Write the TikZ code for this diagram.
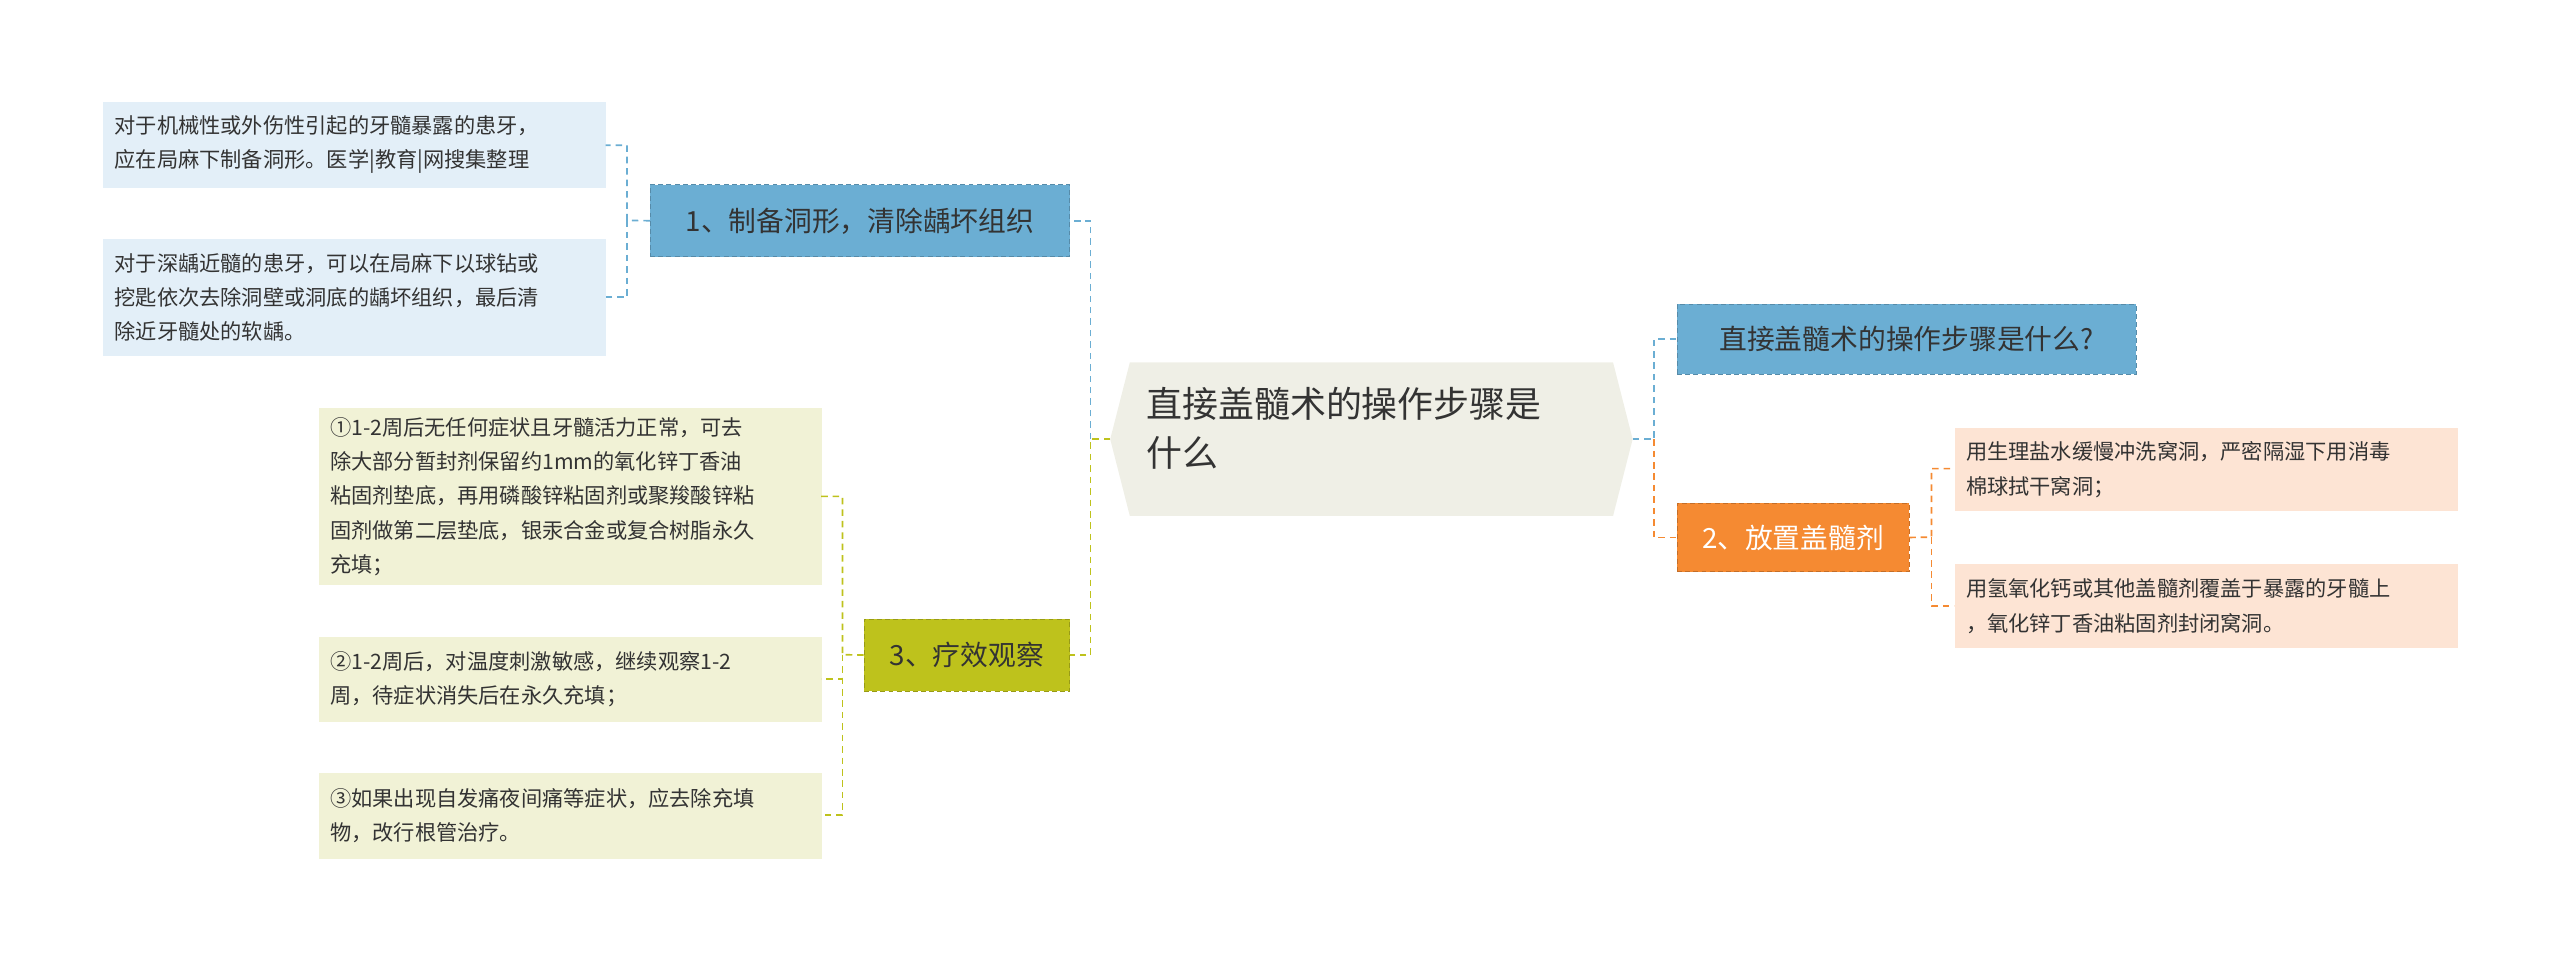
\documentclass[tikz,border=0pt]{standalone}
\usepackage{fontspec}
\newfontfamily\cjk{Noto Sans CJK SC}
\definecolor{cbg}{HTML}{EFEFE6}
\definecolor{blu}{HTML}{6BAED3}
\definecolor{blul}{HTML}{E3EFF8}
\definecolor{org}{HTML}{F58A32}
\definecolor{orgl}{HTML}{FDE4D4}
\definecolor{grn}{HTML}{BEC21C}
\definecolor{grnl}{HTML}{F1F2D6}
\definecolor{txt}{HTML}{333333}
\tikzset{
 x=1pt,y=-1pt,
 every node/.style={font=\cjk, text=txt, inner sep=0pt},
 br/.style={draw=#1!80!black, dashed, dash pattern=on 3pt off 2pt, font=\cjk\fontsize{17}{20}\selectfont, anchor=north west, inner xsep=10pt},
 leaf/.style={font=\cjk\fontsize{13}{21}\selectfont, align=left, anchor=north west, inner xsep=7pt},
 ln/.style={draw=#1, dashed, dash pattern=on 4pt off 3pt, line width=1pt},
}
\begin{document}
\begin{tikzpicture}
\useasboundingbox (0,0) rectangle (1568,589);
% center
\fill[cbg] (692,222) -- (988,222) -- (1000,269) -- (988,316) -- (692,316) -- (680,269) -- cycle;
\node[font=\cjk\fontsize{22}{30}\selectfont, align=left, anchor=north west] (c) at (702,237) {直接盖髓术的操作步骤是\\什么};
\coordinate (cl) at (680,269); \coordinate (cr) at (1000,269);
% right branches
\node[br=blu, fill=blu, minimum width=281, minimum height=43] (r1) at (1027,186) {直接盖髓术的操作步骤是什么?};
\node[br=org, fill=org, minimum width=142, minimum height=42, text=white] (r2) at (1027,308) {2、放置盖髓剂};
\node[leaf, fill=orgl, minimum width=308, minimum height=51, text width=294] (o1) at (1197,262) {用生理盐水缓慢冲洗窝洞，严密隔湿下用消毒\\棉球拭干窝洞；};
\node[leaf, fill=orgl, minimum width=308, minimum height=52, text width=294] (o2) at (1197,345) {用氢氧化钙或其他盖髓剂覆盖于暴露的牙髓上\\，氧化锌丁香油粘固剂封闭窝洞。};
% left branches
\node[br=blu, fill=blu, minimum width=257, minimum height=44] (l1) at (398,113) {1、制备洞形，清除龋坏组织};
\node[br=grn, fill=grn, minimum width=126, minimum height=44] (l3) at (529,379) {3、疗效观察};
\node[leaf, fill=blul, minimum width=308, minimum height=53, text width=294] (b1) at (63,62) {对于机械性或外伤性引起的牙髓暴露的患牙，\\应在局麻下制备洞形。医学|教育|网搜集整理};
\node[leaf, fill=blul, minimum width=308, minimum height=72, text width=294] (b2) at (63,146) {对于深龋近髓的患牙，可以在局麻下以球钻或\\挖匙依次去除洞壁或洞底的龋坏组织，最后清\\除近牙髓处的软龋。};
\node[leaf, fill=grnl, minimum width=308, minimum height=108, text width=294] (g1) at (195,250) {①1-2周后无任何症状且牙髓活力正常，可去\\除大部分暂封剂保留约1mm的氧化锌丁香油\\粘固剂垫底，再用磷酸锌粘固剂或聚羧酸锌粘\\固剂做第二层垫底，银汞合金或复合树脂永久\\充填；};
\node[leaf, fill=grnl, minimum width=308, minimum height=52, text width=294] (g2) at (195,390) {②1-2周后，对温度刺激敏感，继续观察1-2\\周，待症状消失后在永久充填；};
\node[leaf, fill=grnl, minimum width=308, minimum height=53, text width=294] (g3) at (195,473) {③如果出现自发痛夜间痛等症状，应去除充填\\物，改行根管治疗。};
% connectors
\draw[ln=grn] (cl) -- (668,269) |- (l3.east);
\draw[ln=blu] (668,269) |- (l1.east);
\draw[ln=blu] (cr) -- (1013,269) |- (r1.west);
\draw[ln=org] (1013,269) |- (r2.west);
\draw[ln=org] (r2.east) -- (1183,329) |- (1197,287);
\draw[ln=org] (1183,329) |- (1197,371);
\draw[ln=blu] (l1.west) -- (384,135) |- (371,89);
\draw[ln=blu] (384,135) |- (371,182);
\draw[ln=grn] (l3.west) -- (516,401) |- (503,304);
\draw[ln=grn] (516,401) |- (503,416);
\draw[ln=grn] (516,401) |- (503,499);
\end{tikzpicture}
\end{document}
